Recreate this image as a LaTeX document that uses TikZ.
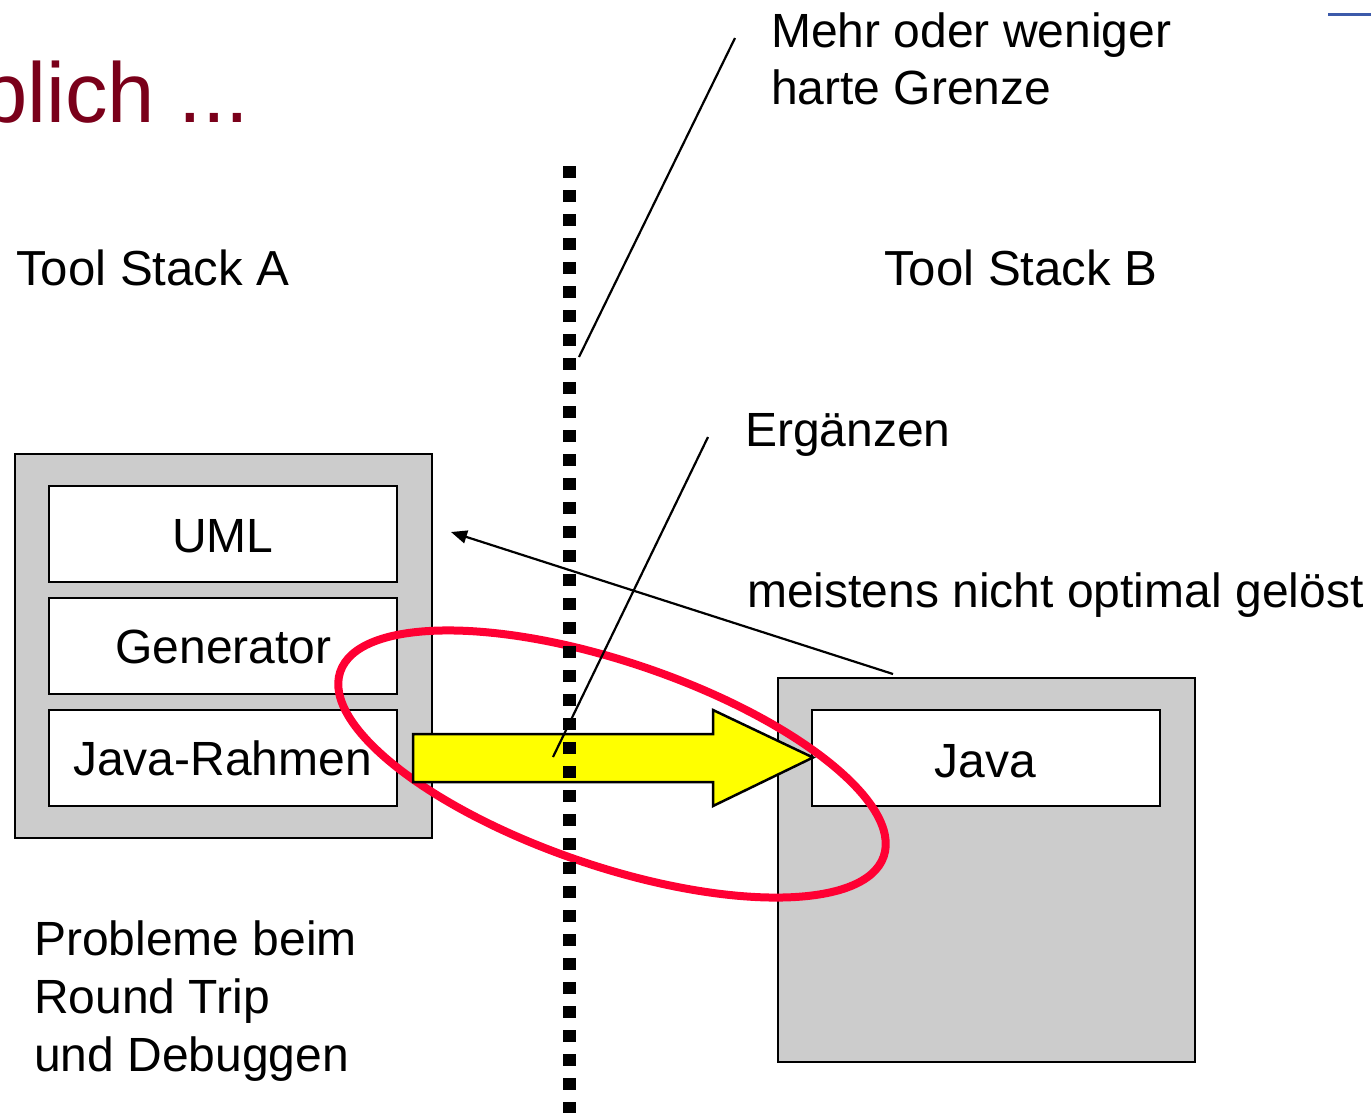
\documentclass[tikz,border=0pt]{standalone}
\usepackage{fontspec}
\setmainfont{Liberation Sans}
\usetikzlibrary{arrows.meta}

\definecolor{stackgray}{RGB}{204,204,204}
\definecolor{titlered}{RGB}{122,0,26}
\definecolor{ringred}{RGB}{255,0,51}
\definecolor{flowyellow}{RGB}{255,255,0}
\definecolor{rulerblue}{RGB}{60,90,170}

\tikzset{
  txt/.style={inner sep=0pt, anchor=base west, font=\fontsize{48}{57.5}\selectfont},
  stackbox/.style={draw=black, line width=2.5pt, fill=stackgray, inner sep=0pt, outer sep=0pt,
    minimum width=417pt, minimum height=384pt, anchor=north west},
  layerbox/.style={draw=black, line width=2.5pt, fill=white, inner sep=0pt, outer sep=0pt,
    minimum width=348pt, minimum height=96pt, anchor=north west},
  layertxt/.style={inner sep=0pt, anchor=base, font=\fontsize{48}{57.5}\selectfont},
  pointer/.style={draw=black, line width=2.2pt},
}

\begin{document}
\begin{tikzpicture}[x=1pt,y=-1pt]
\useasboundingbox (0,0) rectangle (1371,1112);
\clip (0,0) rectangle (1371,1112);

% heading fragment and ruler at the top
\node[txt, text=titlered, font=\fontsize{85}{100}\selectfont] (title) at (-20,122) {blich ...};
\draw[rulerblue, line width=3pt] (1328,14.5) -- (1375,14.5);

% stack labels
\node[txt, font=\fontsize{49.2}{57.5}\selectfont] (stackA) at (16,285) {Tool Stack A};
\node[txt, font=\fontsize{49.2}{57.5}\selectfont] (stackB) at (884,285) {Tool Stack B};

% tool stack A
\node[stackbox] (boxA) at (15,454) {};
\node[layerbox] (uml) at (49,486) {};
\node[layerbox] (gen) at (49,598) {};
\node[layerbox] (jrahmen) at (49,710) {};
\node[layertxt] (umlT) at (223,552) {UML};
\node[layertxt] (genT) at (223.5,663) {Generator};
\node[layertxt] (jrT) at (222.5,775) {Java-Rahmen};

% tool stack B
\node[stackbox] (boxB) at (778,678) {};
\node[layerbox] (java) at (812,710) {};
\node[layertxt] (javaT) at (985,777) {Java};

% problem description
\node[txt] (prob1) at (34,955) {Probleme beim};
\node[txt] (prob2) at (34,1013) {Round Trip};
\node[txt] (prob3) at (34,1071) {und Debuggen};

% annotations on the right
\node[txt] (grenze1) at (771,47) {Mehr oder weniger};
\node[txt] (grenze2) at (771,104) {harte Grenze};
\node[txt] (ergaenzen) at (745,446) {Ergänzen};
\node[txt] (optimal) at (747,607) {meistens nicht optimal gelöst};

% ring around the critical transition
\draw[ringred, line width=8pt, rotate around={-18.75:(612,764)}]
  (612,764) ellipse [x radius=287, y radius=102];

% transfer arrow from stack A to stack B
\draw[fill=flowyellow, line width=2.5pt, line join=miter]
  (413,734) -- (713,734) -- (713,710) -- (813,757.5) -- (713,806) -- (713,782) -- (413,782) -- cycle;

% boundary between the two stacks
\draw[line width=12.5pt, dash pattern=on 12pt off 12pt] (569.5,166) -- (569.5,1130);

% pointer lines and feedback arrow
\coordinate (grenzeTip) at (735,38);
\coordinate (grenzeEnd) at (579,357);
\coordinate (ergTip) at (708,437);
\coordinate (ergEnd) at (553,757);
\coordinate (fbStart) at (893,674);
\coordinate (fbEnd) at (451,532);
\draw[pointer] (grenzeTip) -- (grenzeEnd);
\draw[pointer] (ergTip) -- (ergEnd);
\draw[pointer, -{Triangle[length=16pt,width=13pt]}] (fbStart) -- (fbEnd);
\end{tikzpicture}
\end{document}
